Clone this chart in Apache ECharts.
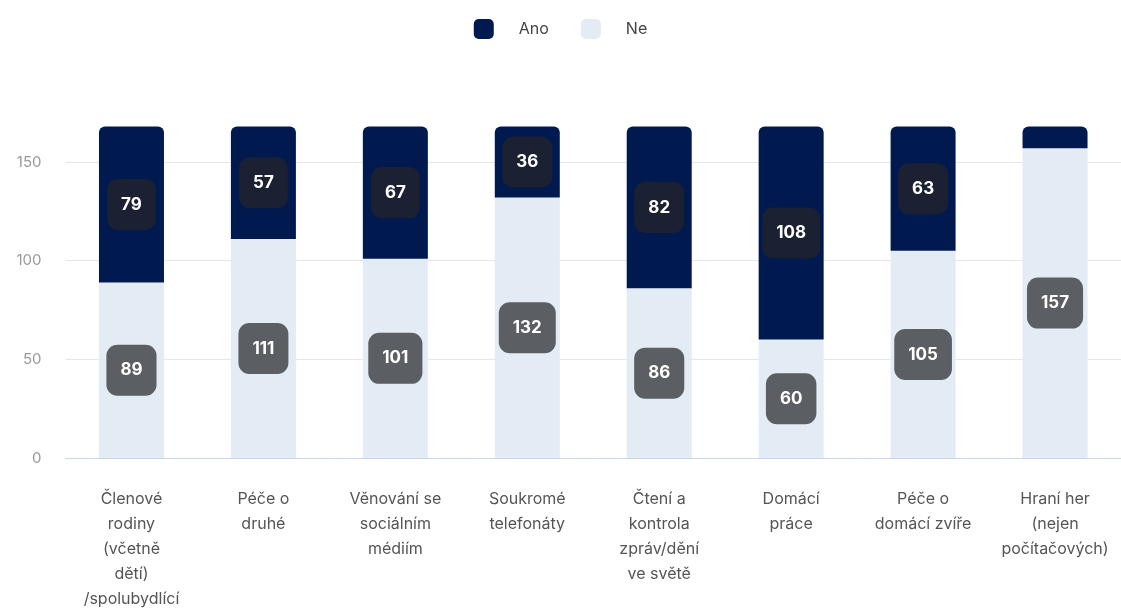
<!DOCTYPE html>
<html>
<head>
<meta charset="utf-8">
<script src="https://cdn.jsdelivr.net/npm/echarts@6/dist/echarts.min.js"></script>
<style>
  html, body { margin: 0; padding: 0; background: #fff; }
  #chart { width: 1121px; height: 608px; }
</style>
</head>
<body>
<div id="chart"></div>
<script>
// Activities and answer counts
const categories = [
  'Členové\nrodiny\n(včetně\ndětí)\n/spolubydlící',
  'Péče o\ndruhé',
  'Věnování se\nsociálním\nmédiím',
  'Soukromé\ntelefonáty',
  'Čtení a\nkontrola\nzpráv/dění\nve světě',
  'Domácí\npráce',
  'Péče o\ndomácí zvíře',
  'Hraní her\n(nejen\npočítačových)'
];
const ano = [79, 57, 67, 36, 82, 108, 63, 11];
const ne = [89, 111, 101, 132, 86, 60, 105, 157];
const yTicks = [0, 50, 100, 150];

const FONT = 'Inter, "Noto Sans", sans-serif';

function boxLabel(bg) {
  return {
    show: true,
    position: 'inside',
    color: '#ffffff',
    fontFamily: FONT,
    fontSize: 17,
    fontWeight: 'bold',
    backgroundColor: bg,
    borderRadius: 11,
    padding: [16, 14, 15, 14],
    lineHeight: 20
  };
}

const chart = echarts.init(document.getElementById('chart'));
chart.setOption({
  animation: false,
  legend: {
    top: 14,
    left: 'center',
    itemWidth: 20,
    itemHeight: 20,
    itemGap: 32,
    icon: 'roundRect',
    textStyle: { fontFamily: FONT, fontSize: 16, color: '#444444', padding: [0, 0, 0, 20] },
    data: ['Ano', 'Ne']
  },
  grid: { left: 65.5, right: 0, top: 126.5, bottom: 150, containLabel: false, outerBoundsMode: 'none' },
  xAxis: {
    type: 'category',
    data: categories,
    axisTick: { show: false },
    axisLine: { lineStyle: { color: '#ccd6eb', width: 1 } },
    axisLabel: {
      interval: 0,
      fontFamily: FONT,
      fontSize: 16,
      color: '#555555',
      lineHeight: 25,
      margin: 29
    }
  },
  yAxis: {
    type: 'value',
    min: yTicks[0],
    max: 168,
    interval: yTicks[1] - yTicks[0],
    axisLabel: {
      fontFamily: FONT,
      fontSize: 15,
      color: '#999999',
      margin: 24,
      showMaxLabel: false
    },
    splitLine: { lineStyle: { color: '#e6e6e6' }, showMaxLine: false },
    axisLine: { show: false },
    axisTick: { show: false }
  },
  series: [
    {
      name: 'Ne',
      type: 'bar',
      stack: 'total',
      barWidth: 65,
      itemStyle: { color: '#e3ebf5' },
      label: boxLabel('#5b5e62'),
      data: ne
    },
    {
      name: 'Ano',
      type: 'bar',
      stack: 'total',
      barWidth: 65,
      itemStyle: { color: '#001a4f', borderRadius: [6, 6, 0, 0] },
      label: boxLabel('#1b2132'),
      data: ano.map((v, i) => i === ano.length - 1 ? { value: v, label: { show: false } } : v)
    }
  ]
});
</script>
</body>
</html>
